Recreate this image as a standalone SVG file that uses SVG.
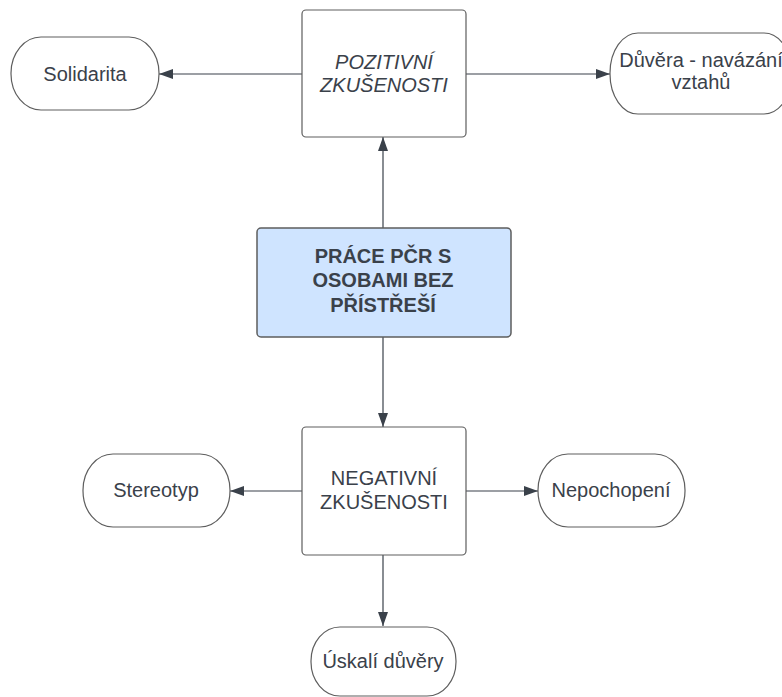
<svg xmlns="http://www.w3.org/2000/svg" width="782" height="697" viewBox="0 0 782 697">
<style>
.box{fill:#ffffff;stroke:#5e5e5e;stroke-width:1.2}
.main{fill:#cfe4ff;stroke:#5e5e5e;stroke-width:1.5}
.t{font-family:"Liberation Sans",Arial,sans-serif;font-size:20px;fill:#3a414a;text-anchor:middle}
.i{font-style:italic}
.b{font-weight:bold}
.c{fill:none;stroke:#3a414a;stroke-width:1.2}
</style>
<defs>
<marker id="ah" viewBox="0 0 14 10" refX="14" refY="5" markerWidth="14" markerHeight="10" markerUnits="userSpaceOnUse" orient="auto">
<path d="M0,0 L14,5 L0,10 Z" fill="#3a414a"/>
</marker>
</defs>
<rect width="782" height="697" fill="#ffffff"/>
<g id="connectors">
<line class="c" x1="302" y1="74" x2="159" y2="74" marker-end="url(#ah)"/>
<line class="c" x1="466" y1="74" x2="610" y2="74" marker-end="url(#ah)"/>
<line class="c" x1="383" y1="228" x2="383" y2="137" marker-end="url(#ah)"/>
<line class="c" x1="383" y1="337" x2="383" y2="427" marker-end="url(#ah)"/>
<line class="c" x1="302" y1="491" x2="230" y2="491" marker-end="url(#ah)"/>
<line class="c" x1="466" y1="491" x2="538" y2="491" marker-end="url(#ah)"/>
<line class="c" x1="383" y1="555" x2="383" y2="626" marker-end="url(#ah)"/>
</g>
<g id="pozitivni">
<rect class="box" x="302" y="10" width="164" height="127" rx="4"/>
<text class="t i" x="384" y="69">POZITIVNÍ</text>
<text class="t i" x="384" y="92">ZKUŠENOSTI</text>
</g>
<g id="solidarita">
<rect class="box" x="11" y="37" width="148" height="73" rx="30" ry="36"/>
<text class="t" x="85" y="81">Solidarita</text>
</g>
<g id="duvera">
<rect class="box" x="610" y="33" width="182" height="81" rx="28" ry="40"/>
<text class="t" x="701" y="67">Důvěra - navázání</text>
<text class="t" x="701" y="89">vztahů</text>
</g>
<g id="prace">
<rect class="main" x="257" y="228" width="254" height="109" rx="4"/>
<text class="t b" x="383" y="263">PRÁCE PČR S</text>
<text class="t b" x="383" y="287">OSOBAMI BEZ</text>
<text class="t b" x="383" y="312">PŘÍSTŘEŠÍ</text>
</g>
<g id="negativni">
<rect class="box" x="302" y="427" width="164" height="128" rx="4"/>
<text class="t" x="384" y="485">NEGATIVNÍ</text>
<text class="t" x="384" y="509">ZKUŠENOSTI</text>
</g>
<g id="stereotyp">
<rect class="box" x="83" y="454" width="147" height="73" rx="30" ry="36"/>
<text class="t" x="156" y="497">Stereotyp</text>
</g>
<g id="nepochopeni">
<rect class="box" x="538" y="454" width="147" height="73" rx="30" ry="36"/>
<text class="t" x="611" y="497">Nepochopení</text>
</g>
<g id="uskali">
<rect class="box" x="311" y="627" width="145" height="69" rx="29" ry="34"/>
<text class="t" x="383" y="668">Úskalí důvěry</text>
</g>
</svg>
